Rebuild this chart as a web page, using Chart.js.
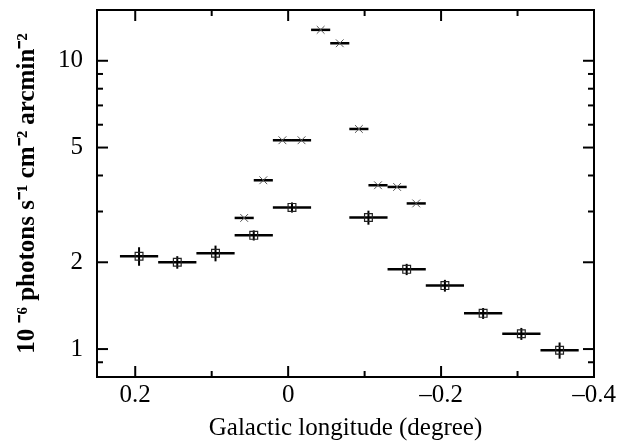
<!DOCTYPE html>
<html>
<head>
<meta charset="utf-8">
<script src="https://cdn.jsdelivr.net/npm/chart.js@4.4.0/dist/chart.umd.min.js"></script>
<style>
  html, body { margin: 0; padding: 0; background: #fff; }
  #wrap { width: 623px; height: 444px; }
</style>
</head>
<body>
<div id="wrap"><canvas id="chart"></canvas></div>
<script>
// Surface brightness along the galactic plane, two data sets

// narrow bins (crosses)
const crossLon = [0.0575, 0.0325, 0.0075, -0.0175, -0.0425, -0.0675, -0.0925, -0.1175, -0.1425, -0.1675];
const crossFlux = [2.85, 3.85, 5.3, 5.3, 12.8, 11.5, 5.8, 3.7, 3.65, 3.2];
const crossHalfBin = 0.0125;

// wide bins (squares)
const squareLon = [0.195, 0.145, 0.095, 0.045, -0.005, -0.105, -0.155, -0.205, -0.255, -0.305, -0.355];
const squareFlux = [2.10, 2.00, 2.15, 2.48, 3.10, 2.86, 1.89, 1.66, 1.33, 1.13, 0.99];
const squareErr = [0.155, 0.10, 0.135, 0.10, 0.125, 0.16, 0.085, 0.078, 0.058, 0.054, 0.064];
const squareHalfBin = 0.025;

// axis ticks
const xTicks = [0.2, 0.1, 0, -0.1, -0.2, -0.3, -0.4];
const xLabelTicks = [0.2, 0, -0.2, -0.4];
const yTicks = [0.9, 1, 2, 3, 4, 5, 6, 7, 8, 9, 10];
const yLabelTicks = [1, 2, 5, 10];

const serif = 'Liberation Serif';

function fmtLon(v) {
  if (v === 0) return '0';
  return (v < 0 ? '\u2013' : '') + Math.abs(v).toFixed(1);
}

/**
 * Horizontal bin bars and vertical error bars, drawn under the markers
 */
const errorBars = {
  id: 'errorBars',
  beforeDatasetsDraw(chart) {
    const { ctx, scales: { x, y } } = chart;
    ctx.save();
    ctx.strokeStyle = '#000';
    ctx.lineCap = 'butt';
    const seg = (x0, y0, x1, y1) => {
      ctx.beginPath();
      ctx.moveTo(x0, y0);
      ctx.lineTo(x1, y1);
      ctx.stroke();
    };
    ctx.lineWidth = 2.5;
    crossLon.forEach((lon, i) => {
      const py = y.getPixelForValue(crossFlux[i]);
      seg(x.getPixelForValue(lon + crossHalfBin), py, x.getPixelForValue(lon - crossHalfBin), py);
    });
    squareLon.forEach((lon, i) => {
      const py = y.getPixelForValue(squareFlux[i]);
      seg(x.getPixelForValue(lon + squareHalfBin), py, x.getPixelForValue(lon - squareHalfBin), py);
    });
    ctx.lineWidth = 2;
    squareLon.forEach((lon, i) => {
      const px = x.getPixelForValue(lon);
      seg(px, y.getPixelForValue(squareFlux[i] - squareErr[i]), px, y.getPixelForValue(squareFlux[i] + squareErr[i]));
    });
    ctx.restore();
  },
};

/**
 * Box frame with inward ticks on all four sides
 */
const frameTicks = {
  id: 'frameTicks',
  afterDraw(chart) {
    const { ctx, chartArea: a, scales: { x, y } } = chart;
    ctx.save();
    ctx.strokeStyle = '#000';
    ctx.lineWidth = 2;
    ctx.strokeRect(a.left, a.top, a.right - a.left, a.bottom - a.top);
    const seg = (x0, y0, x1, y1) => {
      ctx.beginPath();
      ctx.moveTo(x0, y0);
      ctx.lineTo(x1, y1);
      ctx.stroke();
    };
    xTicks.forEach((v) => {
      const px = x.getPixelForValue(v);
      const len = xLabelTicks.includes(v) ? 11 : 6;
      seg(px, a.bottom, px, a.bottom - len);
      seg(px, a.top, px, a.top + len);
    });
    yTicks.forEach((v) => {
      const py = y.getPixelForValue(v);
      const len = yLabelTicks.includes(v) ? 11 : 6;
      seg(a.left, py, a.left + len, py);
      seg(a.right, py, a.right - len, py);
    });
    ctx.restore();
  },
};

const config = {
  type: 'scatter',
  data: {
    datasets: [
      {
        label: 'narrow bins',
        data: crossLon.map((lon, i) => ({ x: lon, y: crossFlux[i] })),
        pointStyle: 'crossRot',
        pointRadius: 5.5,
        borderColor: '#555',
        borderWidth: 1,
        backgroundColor: 'rgba(0,0,0,0)',
      },
      {
        label: 'wide bins',
        data: squareLon.map((lon, i) => ({ x: lon, y: squareFlux[i] })),
        pointStyle: 'rect',
        pointRadius: 5.5,
        borderColor: '#222',
        borderWidth: 1.2,
        backgroundColor: 'rgba(0,0,0,0)',
      },
    ],
  },
  options: {
    responsive: true,
    maintainAspectRatio: false,
    animation: false,
    events: [],
    layout: { padding: { left: 4, right: 29, top: 10, bottom: 1 } },
    plugins: {
      legend: { display: false },
      tooltip: { enabled: false },
    },
    scales: {
      x: {
        type: 'linear',
        reverse: true,
        min: -0.4,
        max: 0.25,
        border: { display: false },
        grid: { display: false, drawTicks: false },
        afterBuildTicks: (s) => { s.ticks = xTicks.map((v) => ({ value: v })); },
        afterFit: (s) => { s.height = 66; s.paddingLeft = 0; s.paddingRight = 0; },
        ticks: {
          autoSkip: false,
          maxRotation: 0,
          padding: 3,
          color: '#000',
          font: { family: serif, size: 25 },
          callback: (v) => (xLabelTicks.includes(v) ? fmtLon(v) : ''),
        },
        title: {
          display: true,
          text: 'Galactic longitude (degree)',
          color: '#000',
          font: { family: serif, size: 25 },
          padding: { top: 0, bottom: 0 },
        },
      },
      y: {
        type: 'logarithmic',
        min: 0.8,
        max: 15,
        border: { display: false },
        grid: { display: false, drawTicks: false },
        afterBuildTicks: (s) => { s.ticks = yTicks.map((v) => ({ value: v })); },
        afterFit: (s) => { s.width = 93; s.paddingTop = 0; s.paddingBottom = 0; },
        ticks: {
          autoSkip: false,
          padding: 14,
          color: '#000',
          font: { family: serif, size: 25 },
          callback: (v) => (yLabelTicks.includes(v) ? String(v) : ''),
        },
        title: {
          display: true,
          text: '10 \u207B\u2076 photons s\u207B\u00B9 cm\u207B\u00B2 arcmin\u207B\u00B2',
          color: '#000',
          font: { family: serif, size: 25, weight: 'bold' },
          padding: { top: 9, bottom: 0 },
        },
      },
    },
  },
  plugins: [errorBars, frameTicks],
};

new Chart(document.getElementById('chart'), config);
</script>
</body>
</html>
